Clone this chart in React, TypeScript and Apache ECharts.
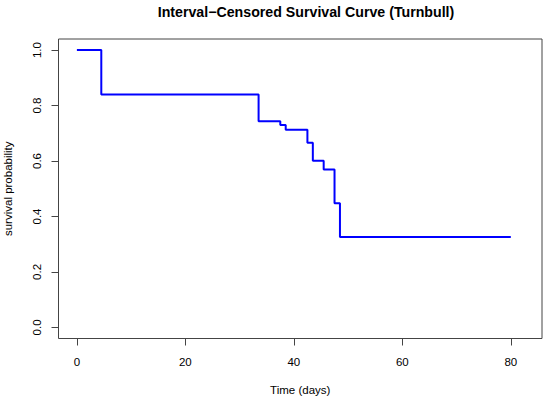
import React, { useEffect, useRef } from "react";
import * as echarts from "echarts";

const titleText = "Interval\u2212Censored Survival Curve (Turnbull)";
const xName = "Time (days)";
const yName = "survival probability";

const times = [0, 4.5, 33.5, 37.5, 38.5, 42.5, 43.5, 45.5, 47.5, 48.5, 80];
const survival = [1, 0.84, 0.743, 0.73, 0.713, 0.666, 0.601, 0.569, 0.448, 0.326, 0.326];

const xTicks = [0, 20, 40, 60, 80];
const yTicks = [0, 0.2, 0.4, 0.6, 0.8, 1.0];

const FONT = "Liberation Sans";

export default function App() {
  const ref = useRef<HTMLDivElement>(null);
  useEffect(() => {
    if (!ref.current) return;
    const chart = echarts.init(ref.current, null, { renderer: "svg" });
    const data = times.map((t, i) => [t, survival[i]]);
    chart.setOption({
      animation: false,
      backgroundColor: "#ffffff",
      textStyle: { fontFamily: FONT },
      title: {
        text: titleText,
        left: 301,
        top: 0,
        textAlign: "center",
        textStyle: { fontFamily: FONT, fontSize: 14.2, fontWeight: "bold", color: "#000" },
      },
      grid: {
        left: 58.5,
        right: 8,
        top: 39,
        bottom: 63.5,
        outerBoundsMode: "none",
        containLabel: false,
        show: true,
        borderColor: "#444",
        borderWidth: 1,
        backgroundColor: "transparent",
      },
      xAxis: {
        type: "value",
        min: -3.39,
        max: 85.75,
        name: xName,
        nameLocation: "middle",
        nameGap: 45,
        nameTextStyle: { fontFamily: FONT, fontSize: 11.5, color: "#000" },
        axisLine: { show: false, onZero: false },
        splitLine: { show: false },
        axisTick: {
          show: true,
          inside: false,
          length: 7,
          customValues: xTicks,
          lineStyle: { color: "#444", width: 1 },
        },
        axisLabel: {
          customValues: xTicks,
          margin: 17,
          fontFamily: FONT,
          fontSize: 11.5,
          color: "#000",
          formatter: (v: number) => String(Math.round(v)),
        },
      },
      yAxis: {
        type: "value",
        min: -0.04,
        max: 1.04,
        name: yName,
        nameLocation: "middle",
        nameGap: 45,
        nameTextStyle: { fontFamily: FONT, fontSize: 11.5, color: "#000" },
        axisLine: { show: false, onZero: false },
        splitLine: { show: false },
        axisTick: {
          show: true,
          inside: false,
          length: 7,
          customValues: yTicks,
          lineStyle: { color: "#444", width: 1 },
        },
        axisLabel: {
          customValues: yTicks,
          rotate: 90,
          margin: 16,
          fontFamily: FONT,
          fontSize: 11.5,
          color: "#000",
          formatter: (v: number) => v.toFixed(1),
        },
      },
      series: [
        {
          type: "line",
          step: "end",
          data,
          showSymbol: false,
          symbol: "none",
          lineStyle: { color: "#0000ff", width: 2 },
        },
      ],
    });
    return () => chart.dispose();
  }, []);
  return (
    <div
      ref={ref}
      style={{ position: "fixed", left: 0, top: 0, width: 550, height: 402 }}
    />
  );
}
